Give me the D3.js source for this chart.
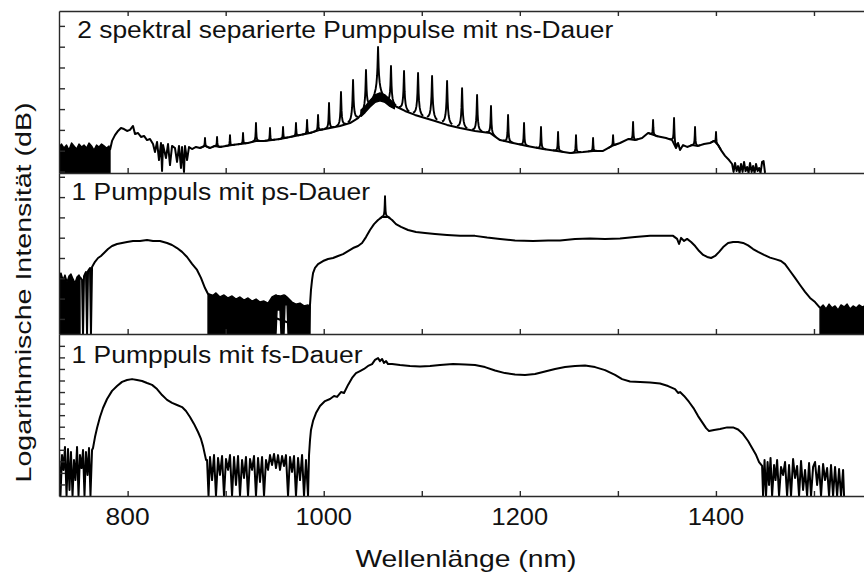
<!DOCTYPE html>
<html>
<head>
<meta charset="utf-8">
<script src="https://cdn.jsdelivr.net/npm/d3@7"></script>
<style>
  body { margin: 0; background: #fff; }
  svg { display: block; }
  text { font-family: "Liberation Sans", Arial, Helvetica, sans-serif; fill: #111; }
</style>
</head>
<body>
<svg id="chart" width="864" height="574"></svg>
<script>
// ---------- data: wavelength (nm), relative level (dB) ----------
const majorTicks = [800, 1000, 1200, 1400];
const minorTicks = [900, 1100, 1300, 1500];

const titles = [
  "2 spektral separierte Pumppulse mit ns-Dauer",
  "1 Pumppuls mit ps-Dauer",
  "1 Pumppuls mit fs-Dauer"
];

// ns pumping: noise floor below the onset (wavelength, low, high)
const nsNoiseLeft = [[730.0,-0.72,11.8],[732.6,-0.72,13.2],[735.1,-0.72,11.3],[737.7,-0.72,12.7],[740.2,-0.72,10.3],[742.8,-0.72,13.7],[745.3,-0.72,12.3],[747.9,-0.72,10.8],[750.4,-0.72,13.2],[753.0,-0.72,11.8],[755.5,-0.72,12.7],[758.1,-0.72,11.3],[760.6,-0.72,13.7],[763.2,-0.72,12.3],[765.7,-0.72,10.3],[768.3,-0.72,12.7],[770.8,-0.72,11.8],[773.4,-0.72,13.2],[775.9,-0.72,12.3],[778.5,-0.72,11.3],[781.0,-0.72,12.3],[782.0,-0.72,10.3]];
// ns pumping: fluctuation band around the pump wavelength (wavelength, low, high)
const nsPumpBand = [[1038.0,26.5,29.5],[1042.1,28.3,31.2],[1047.2,31.0,34.2],[1052.3,33.2,36.8],[1057.4,34.0,37.8],[1062.5,33.2,36.8],[1067.6,31.3,34.6],[1072.0,30.2,32.6]];

// ns pumping: continuum
const nsSpectrum = [[782.0,10.3],[784.1,14.7],[787.1,17.5],[790.2,19.5],[793.2,20.9],[796.3,20.4],[799.4,19.5],[802.4,20.0],[805.5,21.9],[807.5,18.0],[810.6,18.5],[813.6,16.6],[816.7,17.1],[819.8,15.1],[822.8,15.6],[825.9,13.2],[827.9,9.4],[830.0,14.2],[832.0,5.5],[834.0,13.7],[835.1,0.2],[836.1,12.7],[839.1,6.5],[841.2,13.2],[843.2,3.1],[845.3,12.3],[848.3,11.3],[850.4,4.6],[852.4,12.3],[854.4,1.7],[855.5,11.8],[857.5,-0.2],[858.5,12.3],[860.6,5.5],[862.6,11.8],[865.7,10.8],[869.7,11.8],[873.8,11.3],[878.9,12.3],[884.0,11.3],[889.1,12.3],[894.2,11.8],[900.3,12.3],[906.5,12.7],[914.6,13.2],[922.8,13.7],[930.9,14.7],[939.1,14.7],[947.3,15.1],[955.4,15.6],[965.6,16.6],[975.8,17.5],[986.0,18.5],[996.2,20.0],[1006.4,20.9],[1016.6,21.9],[1026.8,23.3],[1035.0,25.7],[1042.1,29.6],[1047.2,32.5],[1052.3,34.9],[1057.4,35.8],[1062.5,34.9],[1067.6,32.9],[1074.8,31.0],[1082.9,29.1],[1093.1,27.2],[1103.3,25.7],[1113.5,24.3],[1125.8,22.4],[1139.0,20.9],[1154.3,19.5],[1169.6,18.5],[1179.8,15.1],[1193.1,13.7],[1207.4,12.3],[1223.7,10.8],[1238.0,9.9],[1251.2,8.9],[1264.5,9.4],[1274.7,9.9],[1284.9,9.9],[1294.1,12.3],[1302.2,13.7],[1310.4,15.6],[1317.5,15.1],[1324.7,16.1],[1330.8,18.5],[1339.0,17.1],[1349.1,16.1],[1355.3,15.1],[1359.3,11.3],[1361.4,13.7],[1363.4,10.3],[1366.5,12.7],[1370.6,11.8],[1375.7,12.7],[1381.8,12.3],[1387.9,13.2],[1394.0,13.7],[1398.1,14.7],[1402.2,12.7],[1405.2,10.3],[1409.3,7.5],[1413.4,5.5],[1416.5,3.6],[1418.0,-0.2],[1419.5,4.1],[1421.1,0.2],[1422.6,2.6],[1424.1,-0.7],[1425.6,3.6],[1427.2,-0.2],[1428.7,4.6],[1430.2,0.2],[1431.8,2.2],[1433.3,-0.7],[1434.8,4.1],[1436.4,-0.2],[1437.9,2.6],[1439.4,-0.7],[1440.9,3.6],[1442.5,0.2],[1444.0,1.7],[1445.5,-0.7],[1447.1,4.6],[1448.6,5.0],[1450.1,-0.7]];

// ns pumping: narrow lines (wavelength, peak level)
const nsLines = [[878.9,16.1],[891.2,16.6],[904.4,17.5],[917.7,18.5],[930.9,23.3],[945.2,20.9],[958.5,21.4],[971.7,23.3],[983.0,24.8],[994.2,27.2],[1005.4,32.9],[1017.6,38.2],[1029.9,44.0],[1043.1,48.8],[1055.4,59.9],[1068.6,50.7],[1081.9,48.3],[1096.2,47.4],[1110.5,45.9],[1125.8,43.5],[1141.1,40.1],[1156.4,36.8],[1170.6,31.5],[1188.0,27.2],[1204.3,23.3],[1221.6,21.4],[1239.0,19.0],[1257.3,17.5],[1274.7,16.1],[1295.1,17.5],[1315.5,23.8],[1335.9,24.8],[1357.3,25.7],[1378.7,21.4],[1400.1,19.0]];

// ps pumping: noise floor regions (wavelength, low, high)
const psNoiseLeft = [[730.0,2.6,30.6],[732.0,2.6,32.6],[734.1,2.6,29.2],[736.1,2.6,31.6],[738.2,2.6,28.2],[740.2,2.6,31.1],[742.2,2.6,32.1],[744.3,2.6,29.7],[746.3,2.6,27.7],[748.4,2.6,30.6],[750.4,2.6,31.6],[751.4,2.6,30.6]];
const psNoiseMid = [[882.0,2.6,22.3],[886.1,2.6,21.3],[890.1,2.6,22.8],[894.2,2.6,20.8],[898.3,2.6,21.8],[902.4,2.6,20.3],[906.5,2.6,21.3],[910.5,2.6,19.8],[914.6,2.6,20.8],[918.7,2.6,19.3],[922.8,2.6,20.3],[926.9,2.6,18.8],[931.0,2.6,19.8],[935.0,2.6,18.3],[939.1,2.6,18.8],[943.2,2.6,17.8],[947.3,2.6,20.8],[951.3,2.6,21.8],[952.4,14.4,21.6],[955.4,14.4,21.3],[956.4,2.6,21.3],[959.5,2.6,21.8],[960.5,16.9,21.6],[962.6,16.9,20.8],[963.6,2.6,20.3],[967.7,2.6,18.3],[971.7,2.6,17.3],[975.8,2.6,17.8],[979.9,2.6,16.4],[984.0,2.6,16.9],[986.0,2.6,15.9]];
const psNoiseRight = [[1506.2,2.6,15.4],[1509.3,2.6,16.9],[1512.3,2.6,14.9],[1515.4,2.6,17.3],[1518.5,2.6,15.4],[1521.5,2.6,16.4],[1524.6,2.6,14.4],[1527.6,2.6,16.9],[1530.7,2.6,15.9],[1533.8,2.6,17.3],[1536.8,2.6,14.9],[1539.9,2.6,16.4],[1543.0,2.6,15.4],[1546.0,2.6,16.9],[1549.1,2.6,15.9],[1552.1,2.6,16.4]];

// ps pumping: continuum
const psSpectrum = [[751.4,30.6],[753.5,29.2],[754.5,2.6],[755.5,31.1],[757.5,33.1],[758.6,2.6],[759.6,33.6],[761.6,35.1],[762.6,2.6],[763.7,35.6],[766.7,38.1],[769.8,40.0],[772.8,41.0],[775.9,42.5],[780.0,44.4],[784.1,45.9],[789.2,46.9],[794.3,47.4],[799.4,47.9],[805.5,48.4],[812.6,48.4],[819.8,48.9],[825.9,48.4],[833.0,48.4],[840.2,47.4],[845.3,46.4],[850.4,44.9],[855.5,43.0],[860.6,40.5],[865.7,37.1],[870.8,34.1],[874.8,30.2],[878.9,25.2],[882.0,22.3],[985.0,4.5],[986.0,16.9],[987.0,24.3],[988.1,29.2],[989.1,32.6],[991.1,35.1],[994.2,37.0],[999.3,38.5],[1004.4,39.5],[1009.5,40.0],[1014.6,41.0],[1019.7,41.9],[1024.8,43.4],[1029.9,44.9],[1035.0,45.9],[1039.1,47.4],[1043.1,50.3],[1047.2,53.8],[1051.3,56.7],[1055.4,58.7],[1059.5,60.2],[1062.5,60.2],[1065.6,60.2],[1069.7,58.7],[1073.7,56.7],[1078.8,55.3],[1086.0,53.8],[1094.1,52.8],[1103.3,52.3],[1113.5,51.8],[1125.8,51.3],[1139.0,50.9],[1154.3,50.9],[1166.6,50.1],[1179.8,49.4],[1195.1,48.6],[1213.5,48.4],[1228.8,48.6],[1241.0,48.6],[1256.3,49.4],[1271.6,49.6],[1286.9,49.4],[1302.2,49.6],[1317.5,50.3],[1332.8,50.9],[1348.1,50.9],[1356.3,50.9],[1360.4,49.4],[1362.4,46.9],[1364.5,49.9],[1367.5,48.4],[1370.6,49.4],[1374.7,47.9],[1378.8,45.9],[1382.9,43.4],[1387.0,41.5],[1391.1,40.5],[1395.1,40.0],[1399.2,41.0],[1403.3,43.0],[1407.4,45.4],[1412.4,47.4],[1417.5,47.9],[1422.6,47.9],[1427.7,47.4],[1432.8,46.2],[1437.9,44.4],[1443.0,43.0],[1449.1,41.5],[1455.2,40.2],[1461.3,39.3],[1466.4,38.5],[1470.5,37.0],[1475.6,33.6],[1480.7,30.2],[1485.8,26.7],[1490.9,23.3],[1496.0,20.3],[1501.1,18.3],[1506.2,15.4]];
const psLines = [[1062.5,70.5]];

// fs pumping: spectrum including the noise floor on both sides
const fsSpectrum = [[730.0,19.9],[731.5,0],[733.1,17.7],[734.6,11.3],[736.1,21.2],[737.7,0],[739.2,20.3],[740.7,2.6],[742.2,19.0],[743.8,0],[745.3,15.6],[746.8,6.9],[748.4,21.2],[749.9,0],[751.4,17.7],[753.0,12.1],[754.5,19.9],[756.0,0],[757.5,19.0],[759.1,9.1],[760.6,20.8],[762.1,0],[763.7,19.9],[764.7,20.8],[766.7,25.5],[768.8,29.4],[771.8,34.2],[774.9,38.1],[779.0,42.0],[784.1,45.5],[789.2,47.6],[794.3,49.4],[799.4,50.2],[804.5,50.6],[809.6,50.2],[814.7,49.8],[819.8,48.9],[824.9,48.1],[830.0,46.3],[835.1,43.7],[840.2,41.6],[845.3,40.3],[850.4,39.4],[855.5,38.5],[859.5,36.8],[863.6,34.2],[867.7,31.2],[871.8,27.7],[874.8,24.7],[876.9,21.6],[878.9,17.7],[880.0,15.6],[881.0,15.6],[882.5,0],[884.0,16.9],[886.1,6.9],[888.1,17.7],[890.1,0],[892.2,16.5],[894.2,9.1],[896.3,17.3],[898.3,0],[900.3,16.0],[902.4,11.3],[904.4,17.7],[906.5,0],[908.5,16.9],[910.5,4.8],[912.6,17.3],[914.6,0],[916.7,15.6],[918.7,7.8],[920.7,16.9],[922.8,0],[924.8,16.0],[926.9,11.3],[928.9,17.3],[930.9,0],[933.0,16.5],[935.0,6.1],[937.1,16.9],[939.1,0],[941.1,15.6],[943.2,11.3],[945.2,17.7],[947.3,13.4],[949.3,18.2],[951.3,12.1],[953.4,17.7],[955.4,11.3],[957.5,17.3],[959.5,13.0],[961.5,17.7],[963.6,0],[965.6,16.9],[967.7,10.4],[969.7,17.3],[971.7,0],[973.8,16.5],[975.8,6.9],[977.9,17.7],[979.9,0],[981.9,15.6],[984.0,0],[985.0,17.7],[986.0,24.2],[987.0,28.6],[989.1,32.5],[992.1,35.9],[996.2,39.0],[1001.3,41.1],[1006.4,42.0],[1010.5,43.3],[1013.6,42.9],[1017.6,45.0],[1020.7,44.6],[1024.8,48.1],[1028.9,51.1],[1032.9,53.2],[1037.0,54.1],[1041.1,55.0],[1045.2,56.3],[1049.3,57.1],[1052.3,58.9],[1055.4,59.7],[1057.4,58.4],[1059.5,59.3],[1061.5,57.6],[1063.6,58.4],[1065.6,57.1],[1069.7,57.1],[1077.8,56.7],[1088.0,56.3],[1098.2,56.1],[1108.4,56.3],[1118.6,56.7],[1131.9,57.1],[1144.1,56.9],[1154.3,56.7],[1164.5,55.8],[1174.7,54.3],[1184.9,53.2],[1195.1,52.6],[1205.3,52.4],[1215.5,52.8],[1225.7,53.9],[1235.9,55.0],[1246.1,55.8],[1256.3,56.3],[1266.5,56.5],[1276.7,55.8],[1286.9,54.5],[1297.1,52.4],[1304.3,50.6],[1312.4,49.6],[1322.6,49.4],[1332.8,49.1],[1343.0,48.7],[1351.2,47.6],[1358.3,46.3],[1361.4,44.6],[1363.4,45.0],[1367.5,43.3],[1372.6,40.7],[1377.7,37.7],[1381.8,34.6],[1385.9,32.0],[1390.0,29.4],[1393.0,28.1],[1398.1,28.6],[1404.2,29.0],[1411.4,29.7],[1417.5,29.7],[1422.6,28.8],[1427.7,26.8],[1432.8,23.8],[1436.9,20.8],[1441.0,17.7],[1444.0,14.7],[1447.1,13.0],[1448.1,0],[1449.6,15.6],[1451.1,0],[1452.7,14.7],[1454.2,4.8],[1455.7,16.5],[1457.3,0],[1459.3,13.4],[1460.8,6.9],[1462.4,15.6],[1464.4,0],[1466.4,12.6],[1468.5,9.1],[1470.5,14.7],[1472.6,0],[1474.6,13.4],[1476.6,0],[1478.7,16.0],[1480.7,7.8],[1482.8,13.0],[1484.8,0],[1486.8,15.2],[1488.9,2.6],[1490.9,11.3],[1493.0,0],[1495.0,14.3],[1497.0,0],[1499.1,12.6],[1501.1,14.7],[1503.2,4.8],[1505.2,13.0],[1507.2,0],[1509.3,13.9],[1511.3,6.9],[1513.4,12.1],[1515.4,0],[1517.4,13.4],[1519.5,0],[1521.5,12.6],[1523.6,0],[1525.6,11.7],[1527.6,0],[1529.7,11.3],[1530.7,0]];

// ---------- layout ----------
const svg = d3.select("#chart");
const plotLeft = 59, plotRight = 872.8;
const x = d3.scaleLinear().domain([730, 1560]).range([plotLeft, plotRight]);

const panels = [
  { top: 11,  bottom: 173, domain: [-0.72, 77.16], ticks: d3.range(0, 71, 10),
    title: titles[0], tx: 77.3, ty: 38.3, tlen: 536, topTicks: true,
    spectrum: nsSpectrum, bands: [nsNoiseLeft, nsPumpBand], lines: nsLines },
  { top: 173, bottom: 334, domain: [2.56, 81.87], ticks: d3.range(10, 81, 10),
    title: titles[1], tx: 71.5, ty: 200, tlen: 298.5, topTicks: false,
    spectrum: psSpectrum, bands: [psNoiseLeft, psNoiseMid, psNoiseRight], lines: psLines },
  { top: 334, bottom: 496, domain: [0, 70.13], ticks: d3.range(5, 66, 5),
    title: titles[2], tx: 71.5, ty: 362.7, tlen: 291, topTicks: false,
    spectrum: fsSpectrum, bands: [], lines: [] }
];

const axisColor = "#2a2a2a";
const bis = d3.bisector(d => d[0]).left;
// level of a spectrum at an arbitrary wavelength (used to anchor the narrow lines)
function levelAt(series, nm) {
  let i = bis(series, nm);
  if (i <= 0) return series[0][1];
  if (i >= series.length) return series[series.length - 1][1];
  const a = series[i - 1], b = series[i];
  const t = (nm - a[0]) / (b[0] - a[0]);
  return a[1] + t * (b[1] - a[1]);
}

panels.forEach((p, k) => {
  const y = d3.scaleLinear().domain(p.domain).range([p.bottom, p.top]);
  const clipId = "clip" + k;
  svg.append("clipPath").attr("id", clipId)
    .append("rect").attr("x", plotLeft).attr("y", p.top).attr("width", plotRight - plotLeft).attr("height", p.bottom - p.top);
  const g = svg.append("g").attr("clip-path", `url(#${clipId})`);

  // noise floor blocks and fluctuation bands
  const area = d3.area().x(d => x(d[0])).y0(d => y(d[1])).y1(d => y(d[2]));
  p.bands.forEach(b => {
    g.append("path").attr("d", area(b)).attr("fill", "#000")
      .attr("stroke", "#000").attr("stroke-width", 1.4).attr("stroke-linejoin", "round");
  });

  // continuum
  const line = d3.line().x(d => x(d[0])).y(d => y(d[1]));
  g.append("path").attr("d", line(p.spectrum))
    .attr("fill", "none").attr("stroke", "#000").attr("stroke-width", 2)
    .attr("stroke-linejoin", "round");

  // narrow lines drawn as Lorentzian cusps on top of the continuum
  const offs = [-5, -3.5, -2.4, -1.6, -1, -0.6, -0.3, 0, 0.3, 0.6, 1, 1.6, 2.4, 3.5, 5];
  const gam = 0.2;
  p.lines.forEach(([nm, peak]) => {
    const cx = x(nm);
    const base = levelAt(p.spectrum, nm);
    const ratio = Math.pow(10, (peak - base) / 10) - 1;
    const pts = offs.map(dx => {
      const w = x.invert(cx + dx);
      const lvl = levelAt(p.spectrum, w) + 10 * Math.log10(1 + ratio / (1 + (dx / gam) ** 2));
      return [cx + dx, y(lvl)];
    });
    g.append("path").attr("d", d3.line()(pts))
      .attr("fill", "none").attr("stroke", "#000").attr("stroke-width", 1.9)
      .attr("stroke-linejoin", "round");
  });

  // left axis with inward ticks
  svg.append("g").attr("transform", `translate(${plotLeft},0)`)
    .call(d3.axisLeft(y).tickValues(p.ticks).tickSize(-6).tickSizeOuter(0).tickFormat(""))
    .call(a => a.selectAll("line,path").attr("stroke", axisColor).attr("stroke-width", 1.4));

  // bottom axis with inward ticks
  svg.append("g").attr("transform", `translate(0,${p.bottom})`)
    .call(d3.axisBottom(x).tickValues(majorTicks.concat(minorTicks)).tickSize(-5).tickSizeOuter(0).tickFormat(""))
    .call(a => a.selectAll("line,path").attr("stroke", axisColor).attr("stroke-width", 1.4));

  if (p.topTicks) {
    svg.append("g").attr("transform", `translate(0,${p.top})`)
      .call(d3.axisTop(x).tickValues(majorTicks.concat(minorTicks)).tickSize(-5).tickSizeOuter(0).tickFormat(""))
      .call(a => a.selectAll("line,path").attr("stroke", axisColor).attr("stroke-width", 1.4));
  }

  // panel caption
  svg.append("text").attr("x", p.tx).attr("y", p.ty)
    .attr("font-size", 23).attr("textLength", p.tlen).attr("lengthAdjust", "spacingAndGlyphs")
    .text(p.title);
});

// wavelength labels under the lowest panel
svg.append("g").selectAll("text").data(majorTicks).join("text")
  .attr("x", d => x(d)).attr("y", 525).attr("text-anchor", "middle")
  .attr("font-size", 23.5)
  .attr("textLength", d => String(d).length === 3 ? 44 : 56.5).attr("lengthAdjust", "spacingAndGlyphs")
  .text(d => d);

// axis titles
svg.append("text").attr("x", (plotLeft + plotRight) / 2).attr("y", 567.3)
  .attr("text-anchor", "middle").attr("font-size", 24)
  .attr("textLength", 221).attr("lengthAdjust", "spacingAndGlyphs")
  .text("Wellenlänge (nm)");

svg.append("text").attr("transform", "translate(30.5,292.5) rotate(-90)")
  .attr("text-anchor", "middle").attr("font-size", 22)
  .attr("textLength", 380).attr("lengthAdjust", "spacingAndGlyphs")
  .text("Logarithmische Intensität (dB)");
</script>
</body>
</html>
